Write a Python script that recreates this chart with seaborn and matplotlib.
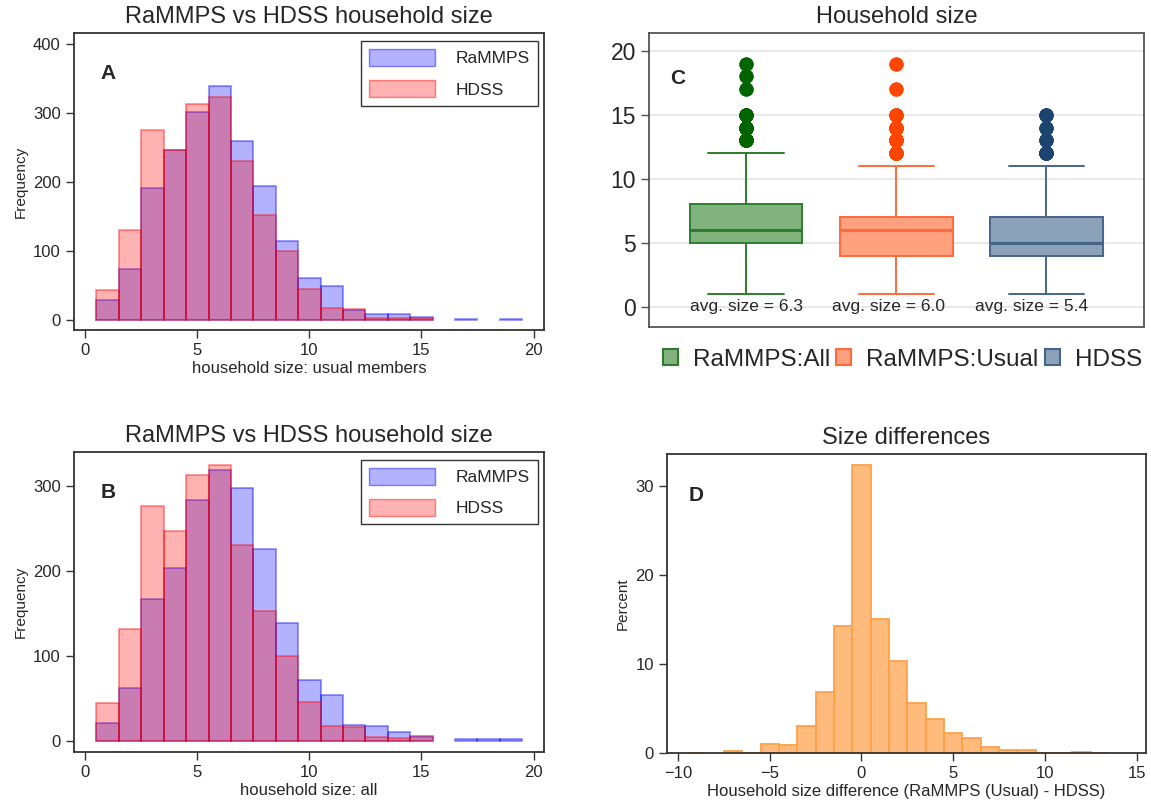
import numpy as np
import pandas as pd
import seaborn as sns
import matplotlib.pyplot as plt
from matplotlib.patches import Patch

# household size, one bin per member count
sizes = list(range(1, 20))
# counts
rammps_usual = [30, 74, 191, 247, 302, 339, 260, 195, 115, 61, 50, 15, 9, 9, 5, 0, 2, 0, 2]
rammps_all = [21, 62, 167, 203, 283, 318, 297, 225, 138, 72, 54, 19, 17, 10, 6, 0, 2, 2, 2]
hdss = [44, 131, 276, 247, 313, 324, 230, 153, 100, 46, 18, 16, 4, 3, 4, 0, 0, 0, 0]

# size differences RaMMPS (usual) - HDSS, in percent
diff_vals = list(range(-9, 14))
diff_pct = [0.05, 0, 0.26, 0.05, 1.04, 0.86, 3.06, 6.8, 14.3, 32.35, 15.0, 10.3,
            5.6, 3.8, 2.24, 1.64, 0.67, 0.3, 0.3, 0.05, 0.05, 0.1, 0.05]

groups = ['RaMMPS:All', 'RaMMPS:Usual', 'HDSS']

sns.set_style('white')
plt.rcParams['font.family'] = ['Liberation Sans', 'DejaVu Sans']

BLUE_F, BLUE_E = (0, 0, 1, 0.3), (0, 0, 1, 0.45)
RED_F, RED_E = (1, 0, 0, 0.3), (1, 0, 0, 0.45)
SPINE = '#333333'


def frame(ax, color=SPINE):
    for s in ax.spines.values():
        s.set_visible(True)
        s.set_color(color)
        s.set_linewidth(1.3)
    ax.tick_params(direction='out', length=6, width=1, color=color, labelsize=12,
                   bottom=True, left=True)


def size_hist(ax, counts, xlabel, letter, ylim, yticks):
    edges = [s - 0.5 for s in sizes] + [19.5]
    sns.histplot(x=sizes, weights=counts, bins=edges, facecolor=BLUE_F,
                 edgecolor=BLUE_E, linewidth=1.2, ax=ax)
    sns.histplot(x=sizes, weights=hdss, bins=edges, facecolor=RED_F,
                 edgecolor=RED_E, linewidth=1.2, ax=ax)
    # drop empty bins so no flat lines show on the baseline
    for p in list(ax.patches):
        if p.get_height() == 0:
            p.remove()
    ax.set_xlim(-0.5, 20.45)
    ax.set_ylim(*ylim)
    ax.set_xticks([0, 5, 10, 15, 20])
    ax.set_yticks(yticks)
    ax.set_xlabel(xlabel, fontsize=12, labelpad=2)
    ax.set_ylabel('Frequency', fontsize=11)
    ax.set_title('RaMMPS vs HDSS household size', fontsize=17, pad=7)
    ax.text(0.056, 0.865, letter, transform=ax.transAxes, fontsize=15,
            fontweight='bold', va='center')
    handles = [Patch(facecolor=BLUE_F, edgecolor=BLUE_E, label='RaMMPS'),
               Patch(facecolor=RED_F, edgecolor=RED_E, label='HDSS')]
    ax.legend(handles=handles, loc='upper right', fontsize=12.5, handlelength=3.8,
              handleheight=1.15, handletextpad=1.2, labelspacing=0.8, borderpad=0.45,
              fancybox=False, edgecolor=SPINE, framealpha=1, borderaxespad=0,
              bbox_to_anchor=(0.987, 0.973))
    frame(ax)


fig = plt.figure(figsize=(11.51, 8.05), dpi=100)
axA = fig.add_axes([0.0643, 0.590, 0.408, 0.369])
axB = fig.add_axes([0.0643, 0.066, 0.408, 0.373])
axC = fig.add_axes([0.564, 0.594, 0.430, 0.365])
axD = fig.add_axes([0.5795, 0.0645, 0.416, 0.372])

size_hist(axA, rammps_usual, 'household size: usual members', 'A', (-14, 416),
          [0, 100, 200, 300, 400])
size_hist(axB, rammps_all, 'household size: all', 'B', (-13, 340), [0, 100, 200, 300])

# --- panel C: box plots built from the same counts
box_counts = [rammps_all, rammps_usual, hdss]
face = ['#82b27e', '#ffa07e', '#8ca2b8']
edge = ['#2e7d2e', '#ff6a3a', '#45658a']
dots = ['#006400', '#ff4500', '#1b4470']
df = pd.DataFrame({
    'group': np.concatenate([[g] * sum(c) for g, c in zip(groups, box_counts)]),
    'size': np.concatenate([np.repeat(sizes, c) for c in box_counts]),
})
for g, fc, ec, dc in zip(groups, face, edge, dots):
    sns.boxplot(data=df[df['group'] == g], x='group', y='size', order=groups,
                color=fc, linecolor=ec, saturation=1, width=0.75, linewidth=1.4,
                capwidths=0.5, medianprops=dict(linewidth=2.2),
                flierprops=dict(marker='o', markersize=9.2, markerfacecolor=dc,
                                markeredgecolor=dc), ax=axC)
for i, g in enumerate(groups):
    avg = df.loc[df['group'] == g, 'size'].mean()
    axC.text(i - 0.05 * i, 0, f'avg. size = {avg:.1f}', ha='center', va='center',
             fontsize=12.5)
axC.set_xlim(-0.645, 2.65)
axC.set_ylim(-1.57, 21.4)
axC.set_yticks([0, 5, 10, 15, 20])
axC.set_xticks([])
axC.set_xlabel('')
axC.set_ylabel('')
axC.grid(axis='y', color='#e4e4e4', linewidth=1.2)
axC.set_axisbelow(True)
axC.set_title('Household size', fontsize=17, pad=7)
frame(axC, '#555555')
axC.tick_params(axis='y', labelsize=16.5)
axC.tick_params(axis='x', bottom=False)
axC.text(0.042, 0.845, 'C', transform=axC.transAxes, fontsize=15,
         fontweight='bold', va='center')
fig.legend(handles=[Patch(facecolor=f, edgecolor=e, linewidth=1.5, label=g)
                    for g, f, e in zip(groups, face, edge)],
           loc='center', bbox_to_anchor=(0.784, 0.553), ncol=3, frameon=False,
           fontsize=17.5, handlelength=0.62, handleheight=0.62, handletextpad=0.62,
           columnspacing=0.25)

# --- panel D: differences
diff_edges = [v - 0.5 for v in diff_vals] + [13.5]
sns.histplot(x=diff_vals, weights=diff_pct, bins=diff_edges,
             facecolor='#ffbb7c', edgecolor='#ffa04a', linewidth=1.3, ax=axD)
for p in list(axD.patches):
    if p.get_height() == 0:
        p.remove()
axD.set_xlim(-10.6, 15.5)
axD.set_ylim(0, 33.6)
axD.set_xticks([-10, -5, 0, 5, 10, 15])
axD.set_yticks([0, 10, 20, 30])
axD.set_xlabel('Household size difference (RaMMPS (Usual) - HDSS)', fontsize=12, labelpad=2)
axD.set_ylabel('Percent', fontsize=11)
axD.set_title('Size differences', fontsize=17, pad=7)
axD.text(0.046, 0.86, 'D', transform=axD.transAxes, fontsize=15,
         fontweight='bold', va='center')
frame(axD)

fig.savefig('out.png', dpi=100)
